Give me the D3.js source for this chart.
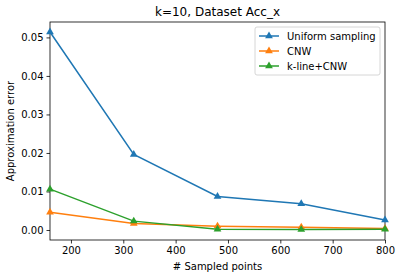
<!DOCTYPE html>
<html>
<head>
<meta charset="utf-8">
<script src="https://cdn.jsdelivr.net/npm/d3@7"></script>
<style>
  body { margin: 0; background: #fff; }
  svg text { font-family: "DejaVu Sans", sans-serif; fill: #000; }
</style>
</head>
<body>
<svg id="chart"></svg>
<script>
const width = 401;
const height = 278;
const margin = {top: 22, right: 16, bottom: 38, left: 50};

// data
const sampledPoints = [160, 320, 480, 640, 800];
const uniformSampling = [0.0514, 0.0196, 0.0087, 0.0068, 0.0026];
const cnw = [0.0046, 0.0017, 0.0010, 0.0007, 0.0004];
const klineCnw = [0.0106, 0.0023, 0.0002, 0.0001, 0.0002];
const seriesNames = ['Uniform sampling', 'CNW', 'k-line+CNW'];
const seriesColors = ['#1f77b4', '#ff7f0e', '#2ca02c'];
const xTicks = [200, 300, 400, 500, 600, 700, 800];
const yTicks = [0, 0.01, 0.02, 0.03, 0.04, 0.05];

const series = [uniformSampling, cnw, klineCnw].map((vals, i) => ({
    name: seriesNames[i],
    color: seriesColors[i],
    values: vals.map((v, j) => ({x: sampledPoints[j], y: v}))
}));

const svg = d3.select('#chart')
    .attr('width', width)
    .attr('height', height);

const x = d3.scaleLinear()
    .domain([160, 800])
    .range([margin.left, width - margin.right]);

const y = d3.scaleLinear()
    .domain([-0.0026, 0.054])
    .range([height - margin.bottom, margin.top]);

const xAxis = svg.append('g')
    .attr('transform', `translate(0, ${height - margin.bottom})`)
    .call(d3.axisBottom(x).tickValues(xTicks).tickSize(3.5).tickPadding(3).tickFormat(d3.format('d')));

const yAxis = svg.append('g')
    .attr('transform', `translate(${margin.left}, 0)`)
    .call(d3.axisLeft(y).tickValues(yTicks).tickSize(3.5).tickPadding(3).tickFormat(d3.format('.2f')));

[xAxis, yAxis].forEach(a => {
    a.select('.domain').remove();
    a.selectAll('text').style('font-size', '10px').attr('fill', '#000');
    a.selectAll('line').attr('stroke', '#000').attr('stroke-width', 0.8);
});

// frame
svg.append('rect')
    .attr('x', margin.left)
    .attr('y', margin.top)
    .attr('width', width - margin.left - margin.right)
    .attr('height', height - margin.top - margin.bottom)
    .attr('fill', 'none')
    .attr('stroke', '#000')
    .attr('stroke-width', 0.8);

const line = d3.line()
    .x(d => x(d.x))
    .y(d => y(d.y));

const tri = d3.symbol().type(d3.symbolTriangle).size(26);

const plot = svg.append('g');

series.forEach(s => {
    plot.append('path')
        .datum(s.values)
        .attr('fill', 'none')
        .attr('stroke', s.color)
        .attr('stroke-width', 1.5)
        .attr('d', line);
    plot.selectAll(null)
        .data(s.values)
        .enter()
        .append('path')
        .attr('transform', d => `translate(${x(d.x)}, ${y(d.y)})`)
        .attr('d', tri)
        .attr('fill', s.color);
});

// title and labels
svg.append('text')
    .attr('x', (margin.left + width - margin.right) / 2)
    .attr('y', 16)
    .attr('text-anchor', 'middle')
    .style('font-size', '12px')
    .text('k=10, Dataset Acc_x');

svg.append('text')
    .attr('x', (margin.left + width - margin.right) / 2)
    .attr('y', 270)
    .attr('text-anchor', 'middle')
    .style('font-size', '10px')
    .text('# Sampled points');

svg.append('text')
    .attr('transform', `translate(14, ${(margin.top + height - margin.bottom) / 2}) rotate(-90)`)
    .attr('text-anchor', 'middle')
    .style('font-size', '10px')
    .text('Approximation error');

// legend
const legend = svg.append('g').attr('transform', 'translate(255, 27)');
legend.append('rect')
    .attr('width', 125)
    .attr('height', 48)
    .attr('rx', 2)
    .attr('fill', '#fff')
    .attr('fill-opacity', 0.8)
    .attr('stroke', '#ccc')
    .attr('stroke-width', 0.8);

series.forEach((s, i) => {
    const row = legend.append('g').attr('transform', `translate(0, ${9 + i * 15})`);
    row.append('line')
        .attr('x1', 4).attr('x2', 24)
        .attr('stroke', s.color)
        .attr('stroke-width', 1.5);
    row.append('path')
        .attr('transform', 'translate(14, 0)')
        .attr('d', tri)
        .attr('fill', s.color);
    row.append('text')
        .attr('x', 32)
        .attr('y', 3.5)
        .style('font-size', '10px')
        .text(s.name);
});
</script>
</body>
</html>
